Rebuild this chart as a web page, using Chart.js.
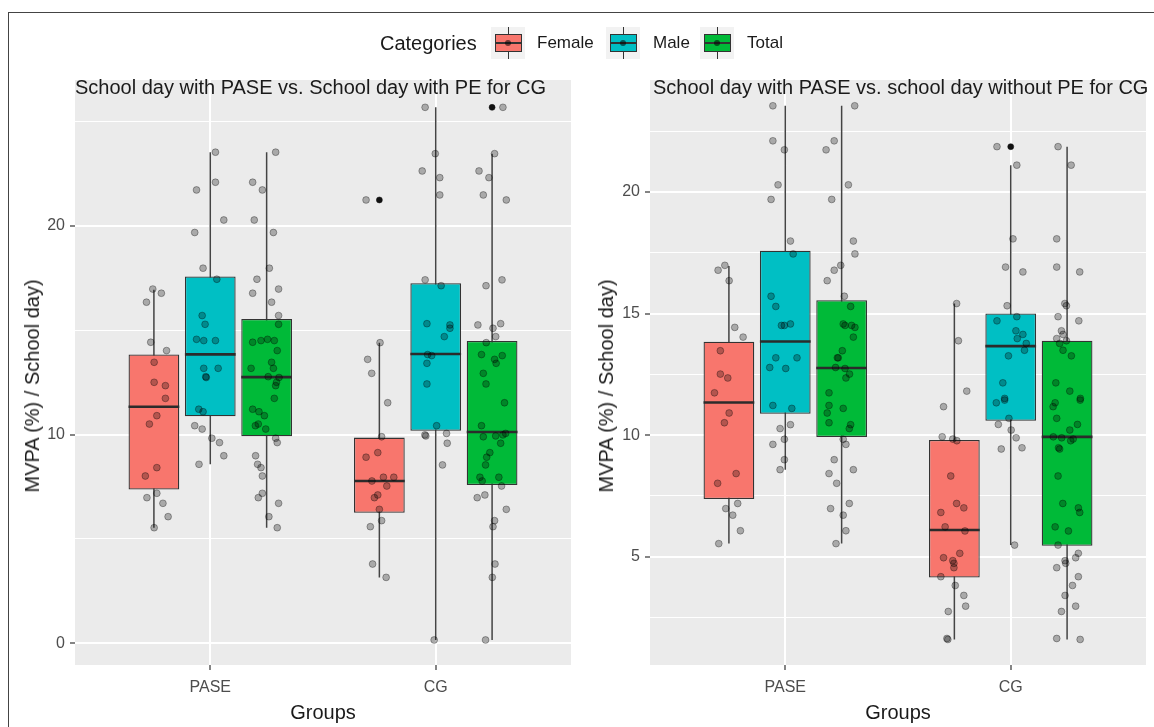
<!DOCTYPE html>
<html>
<head>
<meta charset="utf-8">
<title>MVPA box plots</title>
<script src="https://cdn.jsdelivr.net/npm/chart.js@4.4.1/dist/chart.umd.min.js"></script>
<style>
  html, body { margin: 0; padding: 0; background: #fff; }
  body {
    position: relative; width: 1154px; height: 727px; overflow: hidden;
    font-family: "Liberation Sans", Arial, sans-serif;
  }
  .frame {
    position: absolute; left: 8px; top: 12px; width: 1300px; height: 900px;
    border-left: 1px solid #444; border-top: 1px solid #444;
  }
  canvas { position: absolute; top: 0; }
  #leftChart { left: 0; }
  #rightChart { left: 577px; }
  .ptitle {
    position: absolute; top: 76px; font-size: 20px; line-height: 22px;
    color: #1a1a1a; white-space: nowrap; z-index: 2;
  }
  .ytitle {
    position: absolute; top: 386px; font-size: 20px; line-height: 24px;
    color: #1a1a1a; white-space: nowrap; z-index: 2;
    transform: translate(-50%, -50%) rotate(-90deg);
  }
  #legend { position: absolute; left: 0; top: 27px; height: 32px; width: 1154px; z-index: 2; color: #1a1a1a; }
  #legend span { position: absolute; top: 16px; transform: translateY(-50%); white-space: nowrap; }
  #legend .ltitle { font-size: 20px; }
  #legend .lab { font-size: 17px; }
  .key { position: absolute; top: 0; width: 34px; height: 32px; background: #F2F2F2; }
  .key .wh { position: absolute; left: 16.5px; top: 0; width: 1.4px; height: 32px; background: #333; }
  .key .bx { position: absolute; left: 4px; top: 7px; width: 27px; height: 18px;
             border: 1.2px solid #333; box-sizing: border-box; }
  .key .md { position: absolute; left: 4px; top: 15px; width: 27px; height: 2px; background: #333; }
  .key .dt { position: absolute; left: 14px; top: 13px; width: 6px; height: 6px;
             border-radius: 50%; background: rgba(0,0,0,0.55); }
</style>
</head>
<body>
<div class="frame"></div>
<div id="legend"></div>
<div class="ptitle" style="left:75px">School day with PASE vs. School day with PE for CG</div>
<div class="ptitle" style="left:653px">School day with PASE vs. school day without PE for CG</div>
<div class="ytitle" style="left:32px">MVPA (%) / School day)</div>
<div class="ytitle" style="left:606px">MVPA (%) / School day)</div>
<canvas id="leftChart" width="577" height="727"></canvas>
<canvas id="rightChart" width="577" height="727"></canvas>

<script>
// ---- data ----
const groups = ['PASE', 'CG'];
const categories = ['Female', 'Male', 'Total'];
const fills = ['#F8766D', '#00BFC4', '#00BA38'];

// y ticks
const leftTicks = [0, 10, 20];
const leftMinor = [5, 15, 25];
const rightTicks = [5, 10, 15, 20];
const rightMinor = [2.5, 7.5, 12.5, 17.5, 22.5];

// MVPA (%) of the PASE group, same pupils in both panels
const paseFemale = [16.98, 16.78, 16.35, 14.43, 14.03, 13.47, 12.51, 12.35, 11.74, 10.91, 10.51, 8.42, 8.02, 7.19, 6.98, 6.71, 6.07, 5.54];
const paseMale = [23.54, 22.10, 21.73, 20.29, 19.69, 17.98, 17.45, 15.71, 15.29, 14.57, 14.51, 14.51, 13.18, 13.18, 12.78, 12.74, 11.22, 11.10, 10.43, 10.27, 9.83, 9.62, 8.99, 8.58];
const paseTotal = [23.54, 22.10, 21.73, 20.29, 19.69, 17.98, 17.45, 16.98, 16.78, 16.35, 15.71, 15.29, 14.57, 14.51, 14.51, 14.43, 14.03, 13.47, 13.18, 13.18, 12.78, 12.74, 12.51, 12.35, 11.74, 11.22, 11.10, 10.91, 10.51, 10.43, 10.27, 9.83, 9.62, 8.99, 8.58, 8.42, 8.02, 7.19, 6.98, 6.71, 6.07, 5.54];

// CG on a school day with PE (left panel)
const cgPeFemale = [21.25, 14.41, 13.61, 12.94, 11.53, 9.90, 9.14, 8.92, 7.96, 7.96, 7.78, 7.54, 7.11, 6.98, 6.42, 5.88, 5.59, 3.80, 3.16];
const cgPeMale = [25.69, 23.47, 22.64, 22.32, 21.49, 17.42, 17.14, 15.32, 15.26, 15.10, 14.70, 13.84, 13.79, 13.42, 12.43, 10.43, 10.06, 9.99, 9.94, 9.59, 8.55, 0.16];
const cgPeTotal = [25.69, 23.47, 22.64, 22.32, 21.49, 21.25, 17.42, 17.14, 15.32, 15.26, 15.10, 14.70, 14.41, 13.84, 13.79, 13.61, 13.42, 12.94, 12.43, 11.53, 10.43, 10.06, 9.99, 9.94, 9.90, 9.59, 9.14, 8.92, 8.55, 7.96, 7.96, 7.78, 7.54, 7.11, 6.98, 6.42, 5.88, 5.59, 3.80, 3.16, 0.16];

// CG on a school day without PE (right panel)
const cgNoPeFemale = [15.41, 13.88, 11.81, 11.17, 9.93, 9.84, 9.77, 8.32, 7.19, 7.01, 6.82, 6.23, 6.06, 5.14, 4.96, 4.84, 4.73, 4.55, 4.18, 3.82, 3.41, 2.97, 2.75, 1.64, 1.60];
const cgNoPeMale = [21.86, 21.10, 18.07, 16.91, 16.71, 15.32, 14.87, 14.70, 14.29, 14.14, 13.97, 13.77, 13.49, 13.26, 12.15, 11.51, 11.44, 11.33, 10.69, 10.44, 10.21, 9.89, 9.48, 9.43, 5.48];
const cgNoPeTotal = [21.86, 21.10, 18.07, 16.91, 16.71, 15.41, 15.32, 14.87, 14.70, 14.29, 14.14, 13.97, 13.88, 13.77, 13.49, 13.26, 12.15, 11.81, 11.51, 11.44, 11.33, 11.17, 10.69, 10.44, 10.21, 9.93, 9.89, 9.84, 9.77, 9.48, 9.43, 8.32, 7.19, 7.01, 6.82, 6.23, 6.06, 5.48, 5.14, 4.96, 4.84, 4.73, 4.55, 4.18, 3.82, 3.41, 2.97, 2.75, 1.64, 1.60];

// horizontal jitter of each point (x units, same order as the values)
const jitLeftPaseFemale = [-0.005, 0.033, -0.033, -0.014, 0.056, 0.001, 0.001, 0.051, 0.051, 0.013, -0.020, 0.013, -0.038, 0.013, -0.031, 0.040, 0.063, 0.001];
const jitLeftPaseMale = [0.023, 0.023, -0.061, 0.060, -0.069, -0.032, 0.029, -0.036, -0.023, -0.061, -0.029, 0.023, -0.029, 0.035, -0.020, -0.018, -0.051, -0.032, -0.069, -0.036, 0.007, 0.041, 0.060, -0.050];
const jitLeftPaseTotal = [0.040, -0.062, -0.019, -0.055, 0.030, 0.012, -0.043, 0.053, -0.062, 0.022, 0.053, 0.053, 0.004, -0.025, 0.034, -0.062, 0.047, 0.022, -0.069, 0.030, 0.007, 0.055, 0.044, 0.040, 0.034, -0.062, -0.034, -0.010, -0.037, -0.050, -0.004, 0.040, 0.047, -0.049, -0.040, -0.025, -0.019, -0.019, -0.037, 0.053, 0.010, 0.047];
const jitLeftCgFemale = [-0.059, 0.003, -0.052, -0.034, 0.037, 0.010, -0.007, -0.059, 0.018, 0.064, -0.033, 0.033, -0.007, -0.022, 0.000, 0.010, -0.040, -0.030, 0.030];
const jitLeftCgMale = [-0.047, -0.002, -0.060, 0.018, 0.018, -0.047, 0.024, -0.039, 0.063, 0.063, 0.038, -0.036, -0.018, -0.039, -0.039, 0.004, 0.048, -0.048, -0.044, 0.051, 0.030, -0.007];
const jitLeftCgTotal = [0.048, 0.011, -0.058, -0.014, -0.039, 0.063, 0.044, -0.027, 0.038, -0.063, 0.004, 0.016, -0.026, -0.047, 0.045, 0.011, 0.018, -0.039, -0.027, 0.055, -0.047, 0.060, 0.048, 0.016, -0.039, 0.038, -0.010, -0.024, -0.029, 0.030, -0.054, -0.044, 0.042, -0.032, -0.066, 0.063, 0.011, 0.004, 0.013, 0.001, -0.029];

const jitRightPaseFemale = [-0.018, -0.048, 0.001, 0.026, 0.063, -0.038, -0.038, -0.005, -0.064, 0.001, -0.020, 0.032, -0.050, 0.039, -0.014, 0.017, 0.051, -0.045];
const jitRightPaseMale = [-0.055, -0.055, -0.004, -0.032, -0.063, 0.023, 0.035, -0.063, -0.042, 0.023, -0.004, -0.017, -0.042, 0.052, -0.069, 0.002, -0.055, 0.029, 0.023, -0.023, -0.004, -0.055, -0.004, -0.023];
const jitRightPaseTotal = [0.058, -0.033, -0.069, 0.030, -0.044, 0.052, 0.059, -0.004, -0.033, -0.064, 0.012, 0.040, 0.007, 0.015, 0.044, 0.059, 0.052, 0.003, -0.015, -0.019, -0.027, 0.015, 0.035, 0.019, -0.056, -0.056, 0.007, -0.064, -0.056, 0.040, 0.034, 0.007, 0.019, -0.033, 0.052, -0.056, -0.022, 0.034, -0.049, 0.007, 0.019, -0.025];
const jitRightCgFemale = [0.010, 0.018, 0.055, -0.048, -0.054, -0.007, 0.011, -0.016, 0.010, 0.042, -0.060, -0.041, 0.047, 0.024, -0.048, -0.007, -0.002, -0.002, -0.060, 0.004, 0.042, 0.050, -0.027, -0.033, -0.029];
const jitRightCgMale = [-0.061, 0.027, 0.010, -0.023, 0.054, -0.016, 0.027, -0.061, 0.023, 0.054, 0.029, 0.069, 0.061, -0.010, -0.035, -0.027, -0.027, -0.064, -0.008, -0.055, 0.002, 0.024, 0.050, -0.042, 0.017];
const jitRightCgTotal = [-0.040, 0.018, -0.046, -0.046, 0.056, -0.010, -0.003, -0.040, 0.052, -0.025, -0.018, -0.046, -0.003, -0.033, -0.018, 0.019, -0.050, 0.012, 0.059, 0.058, -0.053, -0.062, -0.046, 0.046, 0.012, -0.061, -0.024, 0.027, 0.016, -0.038, -0.033, -0.040, -0.019, 0.050, 0.056, -0.053, 0.006, -0.040, 0.050, 0.038, -0.009, -0.006, -0.046, 0.050, 0.024, -0.009, 0.038, -0.025, -0.046, 0.058];

// box statistics per category: [lower whisker, Q1, median, Q3, upper whisker]
const boxPase = [[5.54, 7.37, 11.34, 13.84, 16.95], [8.58, 10.88, 13.85, 17.58, 23.54], [5.54, 9.92, 12.76, 15.55, 23.54]];
const boxCgPe = [[3.16, 6.26, 7.78, 9.86, 14.41], [0.16, 10.19, 13.87, 17.26, 25.69], [0.16, 7.59, 10.13, 14.49, 23.47]];
const boxCgNoPe = [[1.60, 4.15, 6.10, 9.80, 15.41], [5.48, 10.59, 13.66, 15.00, 21.10], [1.60, 5.45, 9.93, 13.88, 21.86]];

// outliers drawn by the box plot (black dots)
const outPase = [[], [], []];
const outCgPe = [[21.25], [], [25.69]];
const outCgNoPe = [[], [21.86], []];

// ---- drawing ----
const DODGE = 0.25;       // distance between neighbouring boxes, in x units
const HALF_BOX = 0.1125;  // half of a box width
Chart.defaults.font.family = '"Liberation Sans", Arial, sans-serif';

const panelBackground = {
    id: 'panelBackground',
    beforeDraw(chart) {
        const { ctx, chartArea: a } = chart;
        ctx.save();
        ctx.fillStyle = '#EBEBEB';
        ctx.fillRect(a.left, a.top, a.right - a.left, a.bottom - a.top);
        ctx.restore();
    }
};

function buildDatasets(panel) {
    const sets = [];
    categories.forEach((cat, k) => {
        const off = (k - 1) * DODGE;
        const whisk = [], med = [], pts = [], outs = [];
        groups.forEach((g, gi) => {
            const b = panel.boxes[gi][k];
            const x = gi + 1 + off;
            whisk.push({ x, y: b[0] }, { x, y: b[4] }, { x, y: null });
            med.push({ x: x - HALF_BOX, y: b[2] }, { x: x + HALF_BOX, y: b[2] }, { x: x + HALF_BOX, y: null });
            panel.values[gi][k].forEach((v, i) => pts.push({ x: x + panel.jitter[gi][k][i], y: v }));
            panel.outliers[gi][k].forEach(v => outs.push({ x, y: v }));
        });

        sets.push({
            type: 'bar', label: cat, order: 4,
            data: groups.map((g, gi) => ({ x: gi + 1, y: [panel.boxes[gi][k][1], panel.boxes[gi][k][3]] })),
            backgroundColor: fills[k], borderColor: '#333333', borderWidth: 1.3,
            borderSkipped: false, categoryPercentage: 0.75, barPercentage: 0.9
        });
        sets.push({
            type: 'line', label: cat + ' whiskers', order: 5, data: whisk,
            borderColor: '#444444', borderWidth: 1.5, pointRadius: 0, spanGaps: false, fill: false
        });
        sets.push({
            type: 'line', label: cat + ' median', order: 2, data: med,
            borderColor: '#2b2b2b', borderWidth: 2.6, pointRadius: 0, spanGaps: false, fill: false
        });
        sets.push({
            type: 'scatter', label: cat + ' points', order: 1, data: pts,
            pointRadius: 3.4, pointBackgroundColor: 'rgba(0,0,0,0.28)',
            pointBorderColor: 'rgba(0,0,0,0.32)', pointBorderWidth: 1
        });
        sets.push({
            type: 'scatter', label: cat + ' outliers', order: 0, data: outs,
            pointRadius: 3, pointBackgroundColor: '#111', pointBorderColor: '#111', pointBorderWidth: 0.5
        });
    });
    return sets;
}

function drawPanel(canvasId, panel) {
    const major = panel.ticks;
    const allTicks = [...panel.ticks, ...panel.minor].sort((a, b) => a - b);
    new Chart(document.getElementById(canvasId), {
        type: 'bar',
        data: { datasets: buildDatasets(panel) },
        plugins: [panelBackground],
        options: {
            responsive: false,
            animation: false,
            events: [],
            layout: { padding: { top: 80, right: panel.padRight, left: 0, bottom: 0 } },
            plugins: { legend: { display: false }, tooltip: { enabled: false } },
            scales: {
                x: {
                    type: 'linear', min: 0.4, max: 2.6, offset: false,
                    afterBuildTicks: s => { s.ticks = groups.map((g, i) => ({ value: i + 1 })); },
                    afterFit: s => { s.height = 62; },
                    ticks: {
                        callback: v => groups[v - 1] || '',
                        color: '#4D4D4D', font: { size: 16 }, padding: 8,
                        autoSkip: false, maxRotation: 0
                    },
                    grid: { color: '#ffffff', lineWidth: 2, tickColor: '#333333', tickLength: 5, tickWidth: 1.2, offset: false },
                    border: { display: false },
                    title: { display: true, text: 'Groups', color: '#1a1a1a', font: { size: 20 }, padding: { top: 0, bottom: 2 } }
                },
                y: {
                    type: 'linear', min: panel.yMin, max: panel.yMax,
                    afterBuildTicks: s => { s.ticks = allTicks.map(v => ({ value: v })); },
                    afterFit: s => { s.width = panel.yWidth; },
                    ticks: {
                        callback: v => major.includes(v) ? String(v) : '',
                        color: '#4D4D4D', font: { size: 16 }, padding: 5, autoSkip: false
                    },
                    grid: {
                        color: '#ffffff',
                        lineWidth: c => major.includes(c.tick.value) ? 2 : 1,
                        tickColor: c => major.includes(c.tick.value) ? '#333333' : 'rgba(0,0,0,0)',
                        tickLength: 5, tickWidth: 1.2
                    },
                    border: { display: false }
                }
            }
        }
    });
}

drawPanel('leftChart', {
    yMin: -1.04, yMax: 27.0, ticks: leftTicks, minor: leftMinor,
    yWidth: 75, padRight: 6,
    values: [[paseFemale, paseMale, paseTotal], [cgPeFemale, cgPeMale, cgPeTotal]],
    jitter: [[jitLeftPaseFemale, jitLeftPaseMale, jitLeftPaseTotal], [jitLeftCgFemale, jitLeftCgMale, jitLeftCgTotal]],
    boxes: [boxPase, boxCgPe],
    outliers: [outPase, outCgPe]
});

drawPanel('rightChart', {
    yMin: 0.55, yMax: 24.6, ticks: rightTicks, minor: rightMinor,
    yWidth: 73, padRight: 8,
    values: [[paseFemale, paseMale, paseTotal], [cgNoPeFemale, cgNoPeMale, cgNoPeTotal]],
    jitter: [[jitRightPaseFemale, jitRightPaseMale, jitRightPaseTotal], [jitRightCgFemale, jitRightCgMale, jitRightCgTotal]],
    boxes: [boxPase, boxCgNoPe],
    outliers: [outPase, outCgNoPe]
});

// legend (key and label positions follow the reference layout)
const keyLeft = [491, 606, 700];
const labelLeft = [537, 653, 747];
const legendEl = document.getElementById('legend');
legendEl.innerHTML = '<span class="ltitle" style="left:380px">Categories</span>';
categories.forEach((cat, k) => {
    legendEl.innerHTML += `
        <div class="key" style="left:${keyLeft[k]}px"><div class="wh"></div>
        <div class="bx" style="background:${fills[k]}"></div><div class="md"></div><div class="dt"></div></div>
        <span class="lab" style="left:${labelLeft[k]}px">${cat}</span>`;
});
</script>
</body>
</html>
